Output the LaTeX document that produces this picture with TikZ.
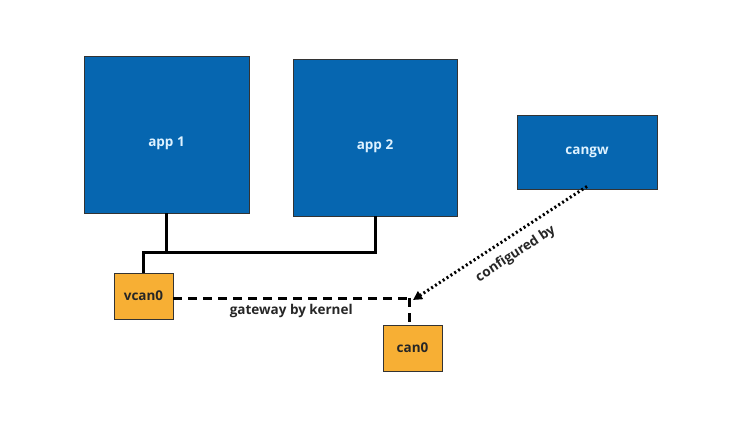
\documentclass[tikz,border=0pt]{standalone}
\usepackage{fontspec}
\setmainfont{Open Sans}
\usetikzlibrary{arrows.meta}

\definecolor{appblue}{RGB}{6,102,176}
\definecolor{canorange}{RGB}{247,175,52}
\definecolor{lighttext}{RGB}{222,242,255}

\begin{document}
\begin{tikzpicture}[x=1pt, y=-1pt,
	appbox/.style={draw=black!80, line width=0.8pt, fill=appblue, text=lighttext, font=\fontsize{13.5}{15}\selectfont\bfseries, inner sep=0pt},
	canbox/.style={draw=black!80, line width=0.8pt, fill=canorange, text=black!85, font=\fontsize{13.5}{15}\selectfont\bfseries, minimum width=59pt, minimum height=46pt, inner sep=0pt},
	wire/.style={line width=3pt},
	gwline/.style={line width=3pt, dash pattern=on 9pt off 6pt},
	cfgline/.style={line width=3pt, dash pattern=on 2pt off 2.6pt, -{Triangle[length=9pt, width=9pt]}},
	lbl/.style={font=\fontsize{13.5}{15}\selectfont\bfseries, text=black!85}]
	\useasboundingbox (0,0) rectangle (750,423);
	\node[appbox, minimum width=165pt, minimum height=157pt, text height=24pt, text depth=0pt] (app1) at (166.5,134.5) {app 1};
	\node[appbox, minimum width=164pt, minimum height=157pt, text height=24pt, text depth=0pt] (app2) at (375,137.5) {app 2};
	\node[appbox, minimum width=140pt, minimum height=74pt] (cangw) at (587,152) {cangw};
	\node[canbox] (vcan0) at (143.5,296) {vcan0};
	\node[canbox] (can0) at (412.5,348) {can0};
	\coordinate (bus) at (0,252);
	\coordinate (gw) at (409,298);
	\draw[wire] (app1.south) -- (app1.south |- bus);
	\draw[wire] (vcan0.north) |- (app2.south |- bus) -- (app2.south);
	\draw[gwline] (vcan0.east |- gw) -- (gw) node[midway, below=1pt, lbl] {gateway by kernel};
	\draw[gwline] (gw) -- (gw |- can0.north);
	\draw[cfgline] ([yshift=3pt]cangw.south) -- ([xshift=4pt,yshift=-2pt]gw) node[pos=0.465, sloped, below=6pt, lbl] {configured by};
\end{tikzpicture}
\end{document}
